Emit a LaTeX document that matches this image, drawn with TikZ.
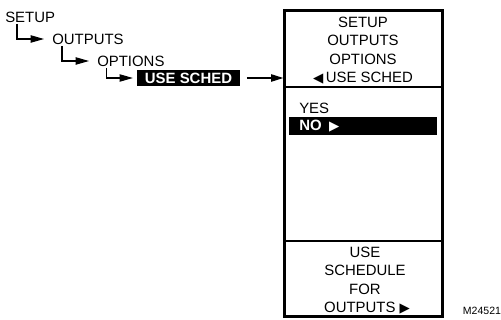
\documentclass[tikz,border=0pt]{standalone}
\usepackage{fontspec}
\setmainfont{Liberation Sans}
\newfontfamily\symfont{DejaVu Sans}
\usetikzlibrary{positioning,arrows.meta}

\begin{document}
\begin{tikzpicture}[x=0.75pt, y=-0.75pt,
  txt/.style={inner sep=0pt, font=\fontsize{11.2}{13.7}\selectfont},
  hl/.style={fill=black, text=white, inner sep=0pt, font=\fontsize{11.2}{13.7}\selectfont\bfseries},
  panel/.style={draw, line width=2.4pt, minimum width=118pt, minimum height=230pt, inner sep=0pt},
  hook/.style={-{Triangle[length=10pt, width=5.5pt]}, line width=0.8pt},
  >={Triangle[length=9pt, width=5.5pt]}]
  \useasboundingbox (0,0) rectangle (501,320);
  % menu path
  \node[txt, anchor=west] (setup) at (5,17) {SETUP};
  \node[txt, anchor=west] (outputs) at (52,39) {OUTPUTS};
  \node[txt, anchor=west] (options) at (97,61) {OPTIONS};
  \node[hl, minimum width=77pt, minimum height=12pt] (usesched) at (188.5,78) {USE SCHED};
  \draw[hook] ([xshift=9pt, yshift=-1pt]setup.south west) |- ([xshift=-6pt]outputs.west);
  \draw[hook] ([xshift=7.5pt, yshift=-1pt]outputs.south west) |- ([xshift=-6pt]options.west);
  \draw[hook] ([xshift=7pt, yshift=-1pt]options.south west) |- ([xshift=-3pt]usesched.west);
  % display panel
  \node[panel] (panel) at (363.5,163.5) {};
  \coordinate (d1) at (0,87);
  \coordinate (d2) at (0,241);
  \draw[line width=1pt] (panel.west |- d1) -- (panel.east |- d1);
  \draw[line width=1pt] (panel.west |- d2) -- (panel.east |- d2);
  \draw[->, line width=0.8pt] ([xshift=5pt]usesched.east) -- (panel.west |- usesched.east);
  \node[txt, align=center] (head) at (363,50.5) {SETUP\\OUTPUTS\\OPTIONS\\{\symfont\fontsize{10}{10}\selectfont ◀}\,USE SCHED};
  \node[txt, anchor=west] (yes) at (299,108) {YES};
  \node[hl, minimum width=111pt, minimum height=13.5pt] (nobar) at (363,126) {};
  \node[hl, anchor=west] (no) at (299,126) {NO\hspace{0.5em}{\symfont\fontsize{10}{10}\selectfont ▶}};
  \node[txt, align=center] (desc) at (365,280.5) {USE\\SCHEDULE\\FOR\\\ OUTPUTS {\symfont\fontsize{10}{10}\selectfont ▶}};
  \node[inner sep=0pt, font=\fontsize{7.9}{9}\selectfont] (code) at (482,311) {M24521};
\end{tikzpicture}
\end{document}
